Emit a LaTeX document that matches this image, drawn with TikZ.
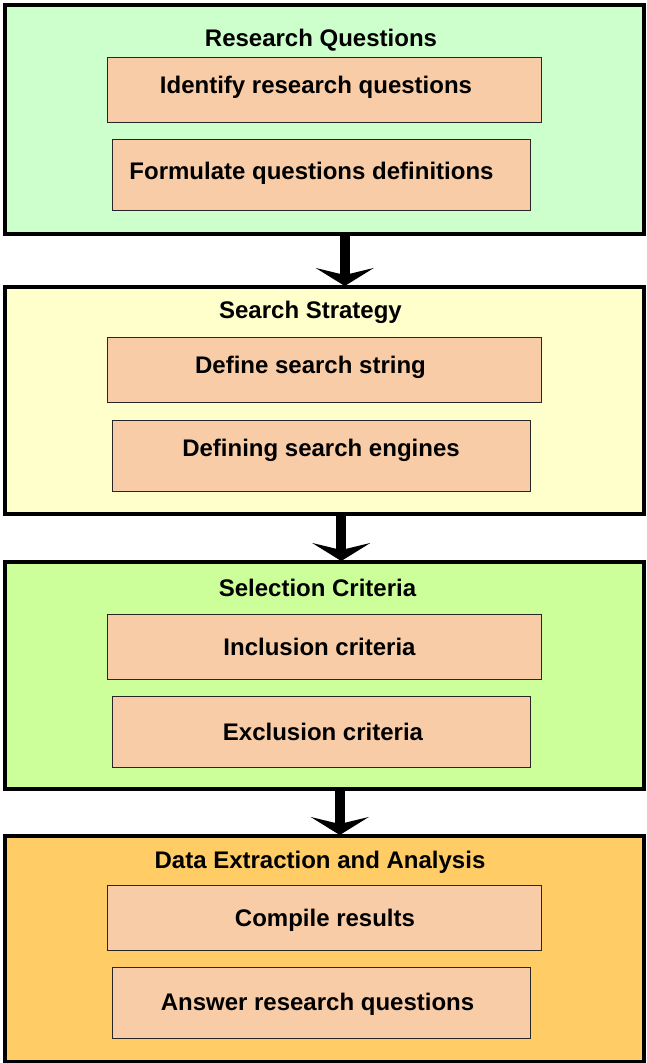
\documentclass[tikz,border=0pt]{standalone}
\usepackage{fontspec}
\setmainfont{Liberation Sans}
\usetikzlibrary{arrows.meta,positioning,calc}
\definecolor{cgreen}{HTML}{CCFFCC}
\definecolor{cyellow}{HTML}{FFFFCC}
\definecolor{clime}{HTML}{CCFF99}
\definecolor{corange}{HTML}{FFCC66}
\definecolor{cpeach}{HTML}{F8CCA6}
\tikzset{
  stage/.style={draw=black, line width=3.5pt, minimum width=639pt, inner sep=0pt, anchor=north west},
  txt/.style={font=\bfseries\fontsize{24}{26}\selectfont, inner sep=0pt},
  itema/.style={draw=black!85, line width=1.3pt, fill=cpeach, minimum width=434pt, minimum height=65pt, inner sep=0pt, anchor=north west},
  itemb/.style={draw=black!85, line width=1.3pt, fill=cpeach, minimum width=418pt, minimum height=71pt, inner sep=0pt, anchor=north west},
  flow/.style={line width=10pt, -{Stealth[length=18pt,width=58pt,inset=7pt]}, shorten >=-1pt},
}
\begin{document}
\begin{tikzpicture}[x=1pt,y=1pt]
\useasboundingbox (0,0) rectangle (646,-1063);
% stage 1
\node[stage, fill=cgreen, minimum height=229pt] (s1) at (3,-3) {};
\node[txt] (t1) at (321,-40) {Research Questions};
\node[itema] (i11) at (107,-57) {};
\node[txt] (l11) at (316,-87) {Identify research questions};
\node[itemb] (i12) at (112,-139) {};
\node[txt] (l12) at (311.5,-173) {Formulate questions definitions};
% stage 2
\node[stage, fill=cyellow, minimum height=227pt] (s2) at (3,-285) {};
\node[txt] (t2) at (310.5,-312) {Search Strategy};
\node[itema] (i21) at (107,-337) {};
\node[txt] (l21) at (310.5,-367) {Define search string};
\node[itemb] (i22) at (112,-420) {};
\node[txt] (l22) at (321,-450) {Defining search engines};
% stage 3
\node[stage, fill=clime, minimum height=227pt] (s3) at (3,-560) {};
\node[txt] (t3) at (317.5,-588) {Selection Criteria};
\node[itema] (i31) at (107,-614) {};
\node[txt] (l31) at (319.5,-647) {Inclusion criteria};
\node[itemb] (i32) at (112,-696) {};
\node[txt] (l32) at (323,-732) {Exclusion criteria};
% stage 4
\node[stage, fill=corange, minimum height=226pt] (s4) at (3,-834) {};
\node[txt] (t4) at (320,-862) {Data Extraction and Analysis};
\node[itema] (i41) at (107,-885) {};
\node[txt] (l41) at (325,-920) {Compile results};
\node[itemb] (i42) at (112,-967) {};
\node[txt] (l42) at (317.5,-1004) {Answer research questions};
% arrows
\draw[flow] ([xshift=20.5pt]s1.south) -- ([xshift=20.5pt]s2.north);
\draw[flow] ([xshift=17pt]s2.south) -- ([xshift=17pt]s3.north);
\draw[flow] ([xshift=15.5pt]s3.south) -- ([xshift=15.5pt]s4.north);
\end{tikzpicture}
\end{document}
